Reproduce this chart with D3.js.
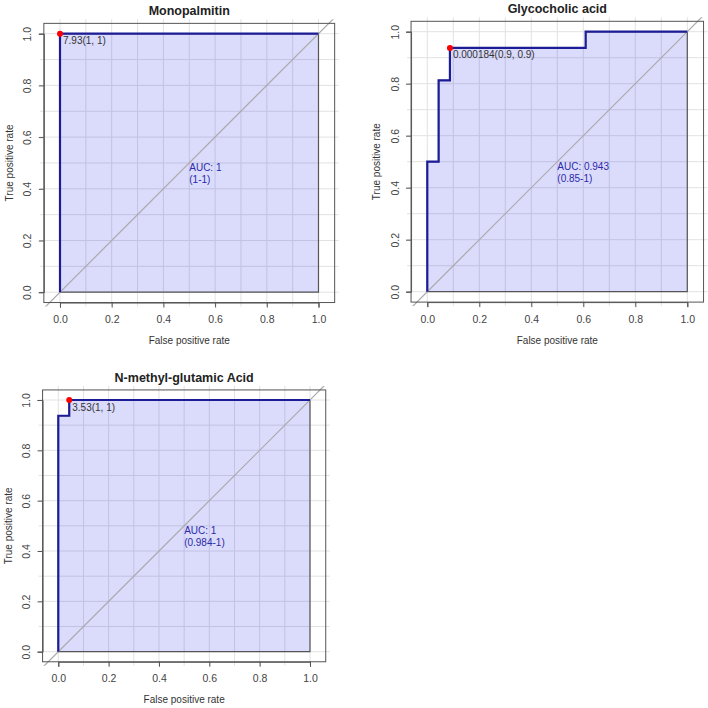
<!DOCTYPE html>
<html>
<head>
<meta charset="utf-8">
<script src="https://cdn.jsdelivr.net/npm/d3@7"></script>
<style>
  html, body { margin: 0; padding: 0; background: #fff; }
  svg { display: block; font-family: "Liberation Sans", Arial, Helvetica, sans-serif; }
</style>
</head>
<body>
<svg id="chart" width="708" height="708"></svg>
<script>
// ---------------- data ----------------
const titles = ["Monopalmitin", "Glycocholic acid", "N-methyl-glutamic Acid"];

const fpr1 = [0, 0, 1];
const tpr1 = [0, 1, 1];
const fpr2 = [0, 0, 0.0435, 0.0435, 0.087, 0.087, 0.609, 0.609, 1];
const tpr2 = [0, 0.5, 0.5, 0.8125, 0.8125, 0.9375, 0.9375, 1, 1];
const fpr3 = [0, 0, 0.0435, 0.0435, 1];
const tpr3 = [0, 0.9375, 0.9375, 1, 1];

const bestFpr = [0, 0.087, 0.0435];
const bestTpr = [1, 0.9375, 1];
const bestLabels = ["7.93(1, 1)", "0.000184(0.9, 0.9)", "3.53(1, 1)"];

const aucLabels = ["AUC: 1", "AUC: 0.943", "AUC: 1"];
const ciLabels = ["(1-1)", "(0.85-1)", "(0.984-1)"];

const tickValues = [0, 0.2, 0.4, 0.6, 0.8, 1.0];
const tickLabels = ["0.0", "0.2", "0.4", "0.6", "0.8", "1.0"];
const gridValues = [0, 0.1, 0.2, 0.3, 0.4, 0.5, 0.6, 0.7, 0.8, 0.9, 1.0];

const xLabel = "False positive rate";
const yLabel = "True positive rate";

// ---------------- layout (pixel placement of each panel) ----------------
const layout = [
  { x0: 60.0, y0: 292.2, unit: 258.5 },
  { x0: 427.3, y0: 291.7, unit: 260.0 },
  { x0: 58.3, y0: 651.7, unit: 251.7 }
];
const xExt = 0.0625, yExt = 0.04;

const svg = d3.select("#chart");
svg.append("rect").attr("width", 708).attr("height", 708).attr("fill", "#fff");

const series = [
  { fpr: fpr1, tpr: tpr1 },
  { fpr: fpr2, tpr: tpr2 },
  { fpr: fpr3, tpr: tpr3 }
];

series.forEach((s, i) => {
  const L = layout[i];
  const x = d3.scaleLinear().domain([0, 1]).range([L.x0, L.x0 + L.unit]);
  const y = d3.scaleLinear().domain([0, 1]).range([L.y0, L.y0 - L.unit]);
  const bx0 = x(-xExt), bx1 = x(1 + xExt), by0 = y(1 + yExt), by1 = y(-yExt);

  const g = svg.append("g");
  const clipId = "clip" + i;
  svg.append("defs").append("clipPath").attr("id", clipId)
    .append("rect").attr("x", bx0 - 4).attr("y", by0 - 4)
    .attr("width", bx1 - bx0 + 8).attr("height", by1 - by0 + 8);

  const inner = g.append("g").attr("clip-path", `url(#${clipId})`);

  // grid
  inner.selectAll("line.gv").data(gridValues).join("line")
    .attr("x1", d => x(d)).attr("x2", d => x(d))
    .attr("y1", by0 - 6).attr("y2", by1 + 6)
    .attr("stroke", "#e2e2e2").attr("stroke-width", 1);
  inner.selectAll("line.gh").data(gridValues).join("line")
    .attr("y1", d => y(d)).attr("y2", d => y(d))
    .attr("x1", bx0 - 6).attr("x2", bx1 + 6)
    .attr("stroke", "#e2e2e2").attr("stroke-width", 1);

  const pts = s.fpr.map((f, k) => [f, s.tpr[k]]);

  // AUC polygon
  const area = d3.area().x(d => x(d[0])).y0(y(0)).y1(d => y(d[1]));
  inner.append("path").datum(pts).attr("d", area)
    .attr("fill", "rgba(0,0,235,0.14)")
    .attr("stroke", "#555").attr("stroke-width", 1.2);

  // diagonal
  inner.append("line")
    .attr("x1", x(-0.2)).attr("y1", y(-0.2))
    .attr("x2", x(1.2)).attr("y2", y(1.2))
    .attr("stroke", "#aaaaaa").attr("stroke-width", 1.2);

  // ROC curve
  const line = d3.line().x(d => x(d[0])).y(d => y(d[1]));
  inner.append("path").datum(pts).attr("d", line)
    .attr("fill", "none").attr("stroke", "#1c1c96").attr("stroke-width", 2.2);

  // box
  g.append("rect").attr("x", bx0).attr("y", by0)
    .attr("width", bx1 - bx0).attr("height", by1 - by0)
    .attr("fill", "none").attr("stroke", "#555").attr("stroke-width", 1);

  // axes
  const xAxis = d3.axisBottom(x).tickValues(tickValues)
    .tickFormat((d, k) => tickLabels[k]).tickSize(5).tickPadding(8);
  const ga = g.append("g").attr("transform", `translate(0,${by1})`).call(xAxis);
  ga.select(".domain").attr("stroke", "#555");
  ga.selectAll(".tick line").attr("stroke", "#555");
  ga.selectAll(".tick text").attr("font-size", 10.5).attr("fill", "#444")
    .attr("font-family", "'Liberation Sans', Arial, sans-serif");

  const yAxis = d3.axisLeft(y).tickValues(tickValues)
    .tickFormat((d, k) => tickLabels[k]).tickSize(5);
  const gy = g.append("g").attr("transform", `translate(${bx0},0)`).call(yAxis);
  gy.select(".domain").attr("stroke", "#555");
  gy.selectAll(".tick line").attr("stroke", "#555");
  gy.selectAll(".tick text")
    .attr("font-size", 10.5).attr("fill", "#444")
    .attr("font-family", "'Liberation Sans', Arial, sans-serif")
    .attr("x", null).attr("dy", null)
    .attr("text-anchor", "middle")
    .attr("transform", "translate(-12.5,0) rotate(-90)");

  // axis labels
  g.append("text").attr("x", (bx0 + bx1) / 2).attr("y", by1 + 41.5)
    .attr("text-anchor", "middle").attr("font-size", 10).attr("fill", "#333")
    .text(xLabel);
  g.append("text")
    .attr("transform", `translate(${bx0 - 31},${(by0 + by1) / 2}) rotate(-90)`)
    .attr("text-anchor", "middle").attr("font-size", 10).attr("fill", "#333")
    .text(yLabel);

  // title
  g.append("text").attr("x", (bx0 + bx1) / 2).attr("y", by0 - 8)
    .attr("text-anchor", "middle").attr("font-size", 12.5).attr("font-weight", "bold")
    .attr("fill", "#222").text(titles[i]);

  // AUC text
  const at = g.append("text").attr("font-size", 10).attr("fill", "#2a2aa8");
  at.append("tspan").attr("x", x(0.5)).attr("y", y(0.5) + 8.5).text(aucLabels[i]);
  at.append("tspan").attr("x", x(0.5)).attr("y", y(0.5) + 20.5).text(ciLabels[i]);

  // best threshold
  g.append("circle").attr("cx", x(bestFpr[i])).attr("cy", y(bestTpr[i]))
    .attr("r", 3).attr("fill", "#ff0000");
  g.append("text").attr("x", x(bestFpr[i]) + 3).attr("y", y(bestTpr[i]) + 10.5)
    .attr("font-size", 10).attr("fill", "#333").text(bestLabels[i]);
});
</script>
</body>
</html>
